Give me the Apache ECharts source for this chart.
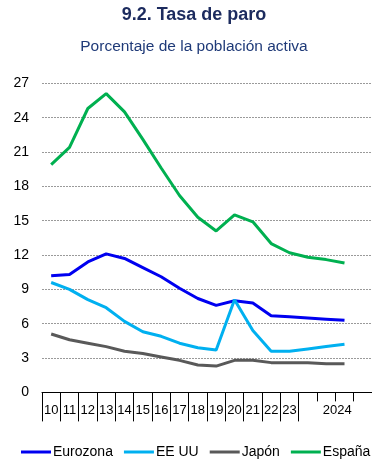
<!DOCTYPE html>
<html>
<head>
<meta charset="utf-8">
<script src="https://cdn.jsdelivr.net/npm/echarts@6/dist/echarts.min.js"></script>
<style>
  html, body { margin: 0; padding: 0; background: #fff; }
  #chart { width: 372px; height: 462px; }
</style>
</head>
<body>
<div id="chart"></div>
<script>
// Unemployment rate, % of labour force, 2010-2026
const years = ['10','11','12','13','14','15','16','17','18','19','20','21','22','23','24','25','26','27'];
const tickLabels = ['10','11','12','13','14','15','16','17','18','19','20','21','22','23','','2024','',''];
const eurozona = [10.2, 10.3, 11.4, 12.1, 11.7, 10.9, 10.1, 9.1, 8.2, 7.6, 8.0, 7.8, 6.7, 6.6, 6.5, 6.4, 6.3];
const eeuu     = [9.6, 9.0, 8.1, 7.4, 6.2, 5.3, 4.9, 4.3, 3.9, 3.7, 8.1, 5.4, 3.6, 3.6, 3.8, 4.0, 4.2];
const japon    = [5.1, 4.6, 4.3, 4.0, 3.6, 3.4, 3.1, 2.8, 2.4, 2.3, 2.8, 2.8, 2.6, 2.6, 2.6, 2.5, 2.5];
const espana   = [19.9, 21.4, 24.8, 26.1, 24.5, 22.1, 19.6, 17.2, 15.3, 14.1, 15.5, 14.9, 13.0, 12.2, 11.8, 11.6, 11.3];
const yTicks = { min: 0, max: 27, step: 3 };

const FONT = "'Liberation Sans', Arial, sans-serif";
const chart = echarts.init(document.getElementById('chart'), null, { renderer: 'canvas' });

function lineSeries(name, data, color) {
  return {
    name, type: 'line', data, xAxisIndex: 0,
    symbol: 'none', smooth: false,
    lineStyle: { color, width: 3 },
    itemStyle: { color }
  };
}

chart.setOption({
  animation: false,
  graphic: [
    { type: 'text', x: 194, y: 6,
      style: { text: '9.2. Tasa de paro', font: 'bold 18px ' + FONT, fill: '#1c2b5e',
        textAlign: 'center', textVerticalAlign: 'top' } },
    { type: 'text', x: 194, y: 39,
      style: { text: 'Porcentaje de la población activa', font: '15.5px ' + FONT, fill: '#1f3a78',
        textAlign: 'center', textVerticalAlign: 'top' } }
  ],
  grid: { left: 42, right: -4, top: 83.3, bottom: 69.6, containLabel: false },
  legend: {
    left: 21, top: 445, width: 420, padding: 0,
    itemWidth: 30, itemHeight: 14, itemGap: 11,
    icon: 'path://M0,0 L30,0 L30,3 L0,3 Z',
    textStyle: { fontFamily: FONT, fontSize: 14, color: '#000', padding: [0, 0, 0, -3] },
    data: ['Eurozona', 'EE UU', 'Japón', 'España']
  },
  xAxis: [
    {
      type: 'category', data: years, boundaryGap: true, position: 'bottom',
      axisLine: { show: true, lineStyle: { color: '#000', width: 1 } },
      axisTick: { show: true, length: 29, lineStyle: { color: '#000' },
        interval: (i) => i <= 14 },
      axisLabel: { interval: 0, margin: 12, fontFamily: FONT, fontSize: 13, color: '#000',
        formatter: (v, i) => tickLabels[i] === '2024' ? '{s|2024}' : tickLabels[i],
        rich: { s: { fontFamily: FONT, fontSize: 13, color: '#000', padding: [0, 0, 0, 22] } } },
      splitLine: { show: false }
    },
    {
      type: 'category', data: years, boundaryGap: true, position: 'bottom',
      axisLine: { show: false },
      axisTick: { show: true, length: 9, lineStyle: { color: '#000' },
        interval: (i) => i >= 15 && i <= 17 },
      axisLabel: { show: false },
      splitLine: { show: false }
    }
  ],
  yAxis: {
    type: 'value', min: yTicks.min, max: yTicks.max, interval: yTicks.step,
    axisLine: { show: false }, axisTick: { show: false },
    axisLabel: { margin: 13, fontFamily: FONT, fontSize: 14, color: '#000' },
    splitLine: { show: true, lineStyle: { color: '#9a9a9a', width: 1, type: [2, 1] } }
  },
  series: [
    lineSeries('Eurozona', eurozona, '#0000f0'),
    lineSeries('EE UU', eeuu, '#00b0f0'),
    lineSeries('Japón', japon, '#595959'),
    lineSeries('España', espana, '#00b050')
  ]
});
</script>
</body>
</html>
